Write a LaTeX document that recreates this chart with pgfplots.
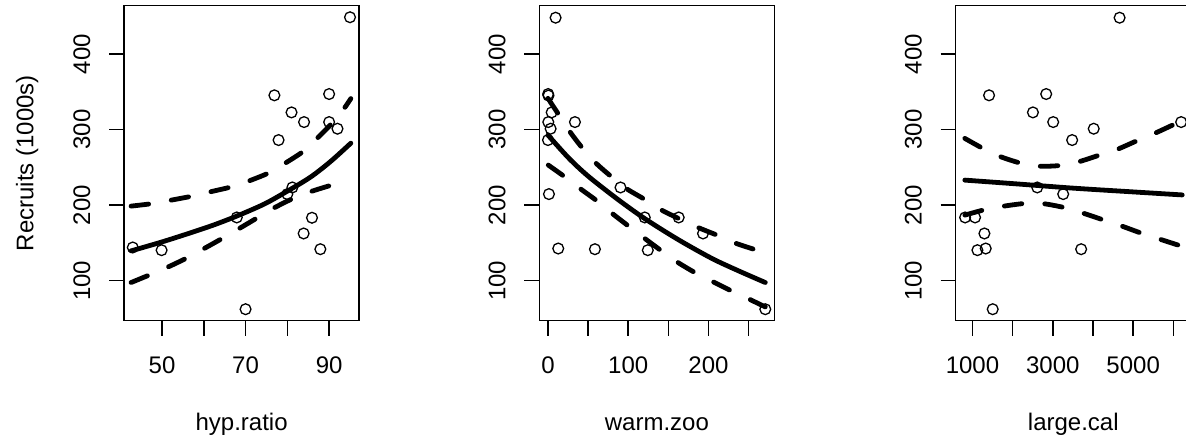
\documentclass[border=0pt]{standalone}
\usepackage{fontspec}
\setmainfont{Liberation Sans}
\usepackage{pgfplots}
\pgfplotsset{compat=1.18}
\pgfplotsset{
  rstyle/.style={
    scale only axis,
    width=117.6pt, height=157.5pt,
    anchor=south west,
    ymin=47.1, ymax=463.9,
    ytick={100,200,300,400},
    yticklabels={100,200,300,400},
    tick pos=left,
    tick align=outside,
    major tick length=7.5pt,
    axis line style={line width=0.75pt},
    every tick/.style={black, line width=0.75pt},
    xticklabel style={anchor=base, yshift=-18.8pt},
    yticklabel style={rotate=90, anchor=base, yshift=9.5pt},
    scaled ticks=false,
    xlabel style={at={(axis description cs:0.5,-0.349)}, anchor=base},
    ylabel style={at={(axis description cs:-0.3855,0.5)}, anchor=base, rotate=0},
    clip=true,
  },
  fitline/.style={black, line width=2.4pt, no marks, smooth, line cap=round},
  ciline/.style={black, line width=2.4pt, no marks, smooth, line cap=round, dash pattern=on 8.8pt off 11.5pt},
  pts/.style={only marks, mark=o, mark size=2.7pt, mark options={line width=0.65pt, black, solid}},
}
\begin{document}
\fontsize{12pt}{14pt}\selectfont
\begin{tikzpicture}
\useasboundingbox (0,0) rectangle (593pt,221pt);
\clip (0,0) rectangle (593pt,221pt);
% ---------------- panel 1: hyp.ratio
\begin{axis}[rstyle, at={(62pt,60.65pt)},
  xmin=40.9, xmax=97.2,
  xtick={50,60,70,80,90}, xticklabels={50,,70,,90},
  xlabel={hyp.ratio}, ylabel={Recruits (1000s)}]
\addplot[pts] coordinates {
(43.0,144) (49.9,140.4) (67.9,183.7) (70.0,62.3) (76.9,345.3) (77.9,286.1)
(80.0,214.6) (81.0,322.7) (81.2,223.4) (84.0,309.9) (83.9,162.5) (85.9,183.3)
(87.9,141.7) (90.0,347) (90.0,309.9) (92.0,301.1) (95.0,448.6)};
\addplot[fitline] coordinates {
(42.6,139.5) (49.8,151) (56.9,163.5) (62.5,174) (68.1,186) (74.5,201.5)
(80,218.5) (85.6,237.3) (90.4,258) (95.2,282)};
\addplot[ciline] coordinates {
(42.6,198.7) (48.2,202.4) (52.1,206.5) (57.3,212) (61.7,217.8) (66.7,224.3)
(70.9,232.2) (75.7,243) (79.4,255.2) (83.9,271.5) (87.1,288.3) (90.8,309.1)
(93.6,328) (95.2,341)};
\addplot[ciline] coordinates {
(42.6,97.6) (47.8,109.5) (51.7,118.8) (56.5,131.6) (60.1,142.6) (64.9,157.5)
(68.5,169.1) (72.9,183.5) (76.7,196) (81.5,209.2) (85.5,217.7) (90.6,226.5)
(95.2,233.5)};
\end{axis}
% ---------------- panel 2: warm.zoo
\begin{axis}[rstyle, at={(269.65pt,60.65pt)},
  xmin=-10.8, xmax=282.3,
  xtick={0,50,100,150,200,250}, xticklabels={0,,100,,200,},
  xlabel={warm.zoo}]
\addplot[pts] coordinates {
(9.5,448) (0.2,347) (0.6,345) (4.6,322.7) (0.4,309.9) (3.3,301.1) (0,286.1)
(33.6,309.9) (90.4,223.4) (1.2,214.6) (120.6,183.7) (162.9,183.7) (193.2,162.5)
(12.8,142.6) (58.5,141.7) (124.4,140.4) (270.8,62.3)};
\addplot[fitline] coordinates {
(0,292.7) (26.1,262) (51,237.5) (88.3,206.6) (121.5,181.5) (162.9,154)
(204.4,129.4) (237.6,113) (270.8,97.6)};
\addplot[ciline] coordinates {
(0,341.3) (14.5,317.9) (28.2,295.8) (43.9,274.2) (60.1,255.2) (79.2,237.5)
(97.4,222.1) (120.6,207.5) (140.1,194.3) (162.9,182.3) (187,170.4) (210.6,160.3)
(232.6,150.1) (257.5,141.3) (270.8,137)};
\addplot[ciline] coordinates {
(0.4,253) (22,236.6) (40.6,221.5) (62.6,204.4) (80,189) (101.6,171.3)
(120.6,155.9) (141.4,139.5) (160.8,124.9) (183.7,110.4) (204.4,99.3)
(228.5,86.5) (249.2,76.4) (270.8,65.3)};
\end{axis}
% ---------------- panel 3: large.cal
\begin{axis}[rstyle, at={(477.85pt,60.65pt)},
  xmin=583, xmax=6437,
  xtick={1000,2000,3000,4000,5000,6000}, xticklabels={1000,,3000,,5000,},
  xlabel={large.cal}]
\addplot[pts] coordinates {
(1413,345.3) (2835,347) (2505,322.7) (3009,309.9) (4018,301.1) (3481,286.1)
(6194,309.9) (2612,223.4) (3258,214.6) (817,183.7) (1065,183.7) (1297,162.5)
(1123,140.4) (1330,142.6) (3705,141.7) (1504,62.3) (4662,448)};
\addplot[fitline] coordinates {
(810,233.1) (2000,228.5) (3500,222.5) (5000,217.5) (6220,213.5)};
\addplot[ciline] coordinates {
(810,288.3) (1288,274.2) (1702,264) (2223,255.2) (2653,251.5) (3191,252.5)
(3646,257.4) (4159,266.2) (4598,273.7) (5094,285.2) (5532,294.9) (6004,306.5)
(6220,312)};
\addplot[ciline] coordinates {
(810,186.8) (1330,194.3) (1785,198.7) (2306,202.2) (2753,202) (3274,196.9)
(3730,189.8) (4226,181) (4680,173) (5176,163.4) (5631,155.5) (6128,147)
(6220,145.5)};
\end{axis}
\end{tikzpicture}
\end{document}
